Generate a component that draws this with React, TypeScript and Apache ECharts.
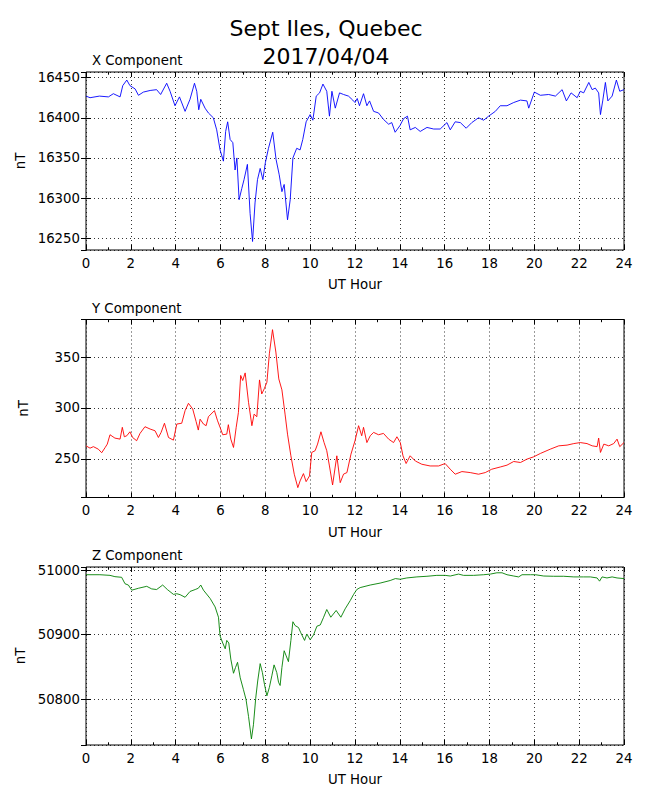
import React, { useEffect, useRef } from "react";
import * as echarts from "echarts";

const FONT = "DejaVu Sans";

const mainTitle = "Sept Iles, Quebec\n2017/04/04";
const panelTitles = ["X Component", "Y Component", "Z Component"];
const xAxisName = "UT Hour";
const yAxisName = "nT";

// X component (hour, nT)
const xHours = [0, 0.18, 0.6, 1.0, 1.22, 1.52, 1.64, 1.82, 1.96, 2.19, 2.34, 2.56, 2.86, 3.15, 3.33, 3.6, 3.75, 3.97, 4.17, 4.42, 4.64, 4.84, 4.94, 5.03, 5.12, 5.31, 5.46, 5.68, 5.83, 5.98, 6.13, 6.23, 6.32, 6.43, 6.55, 6.65, 6.73, 6.83, 6.95, 7.05, 7.2, 7.32, 7.43, 7.54, 7.65, 7.77, 7.89, 8.0, 8.14, 8.33, 8.48, 8.62, 8.74, 8.84, 8.99, 9.11, 9.23, 9.4, 9.55, 9.67, 9.82, 10.0, 10.12, 10.27, 10.42, 10.57, 10.74, 10.86, 10.97, 11.12, 11.31, 11.49, 11.71, 11.9, 12.0, 12.1, 12.2, 12.38, 12.53, 12.65, 12.83, 13.05, 13.27, 13.5, 13.64, 13.79, 14.0, 14.17, 14.34, 14.46, 14.69, 14.91, 15.21, 15.51, 15.8, 16.1, 16.25, 16.47, 16.7, 16.96, 17.21, 17.51, 17.74, 17.96, 18.26, 18.48, 18.78, 19.08, 19.38, 19.67, 19.75, 20.0, 20.27, 20.64, 20.94, 21.24, 21.43, 21.64, 21.91, 22.05, 22.2, 22.43, 22.58, 22.72, 22.87, 22.95, 23.05, 23.17, 23.28, 23.47, 23.66, 23.81, 24.0];
const xValues = [16427, 16425, 16427, 16426, 16430, 16426, 16440, 16447, 16440, 16436, 16428, 16432, 16434, 16435, 16429, 16443, 16433, 16415, 16426, 16408, 16423, 16443, 16433, 16410, 16423, 16412, 16406, 16400, 16385, 16360, 16346, 16383, 16395, 16373, 16369, 16335, 16350, 16298, 16312, 16323, 16342, 16281, 16246, 16294, 16323, 16337, 16323, 16344, 16362, 16382, 16348, 16329, 16308, 16317, 16273, 16298, 16350, 16362, 16360, 16373, 16395, 16404, 16397, 16427, 16431, 16442, 16433, 16402, 16433, 16412, 16431, 16429, 16427, 16422, 16419, 16424, 16415, 16430, 16415, 16421, 16408, 16406, 16398, 16392, 16394, 16382, 16390, 16399, 16402, 16385, 16388, 16383, 16388, 16386, 16386, 16394, 16385, 16395, 16394, 16387, 16394, 16400, 16397, 16402, 16408, 16415, 16415, 16419, 16422, 16421, 16412, 16432, 16428, 16429, 16427, 16435, 16421, 16431, 16425, 16433, 16431, 16444, 16435, 16437, 16431, 16404, 16421, 16444, 16421, 16427, 16447, 16433, 16435];

// Y component (hour, nT)
const yHours = [0, 0.18, 0.33, 0.55, 0.7, 0.85, 0.95, 1.07, 1.29, 1.52, 1.62, 1.71, 1.82, 1.96, 2.08, 2.26, 2.41, 2.63, 2.86, 3.08, 3.23, 3.35, 3.5, 3.68, 3.9, 4.05, 4.27, 4.42, 4.57, 4.76, 4.91, 5.01, 5.09, 5.24, 5.36, 5.46, 5.73, 5.86, 5.98, 6.1, 6.28, 6.35, 6.46, 6.58, 6.7, 6.8, 6.9, 6.99, 7.1, 7.25, 7.4, 7.5, 7.62, 7.74, 7.84, 7.95, 8.07, 8.18, 8.32, 8.47, 8.6, 8.74, 8.88, 8.99, 9.14, 9.29, 9.45, 9.55, 9.7, 9.82, 9.97, 10.07, 10.22, 10.33, 10.48, 10.62, 10.74, 10.86, 11.0, 11.19, 11.34, 11.49, 11.64, 11.82, 12.0, 12.16, 12.3, 12.38, 12.53, 12.68, 12.83, 13.05, 13.27, 13.5, 13.72, 13.87, 14.02, 14.14, 14.28, 14.46, 14.69, 14.98, 15.35, 15.73, 16.02, 16.25, 16.47, 16.77, 17.14, 17.51, 17.81, 18.1, 18.48, 18.78, 19.08, 19.38, 19.67, 19.97, 20.27, 20.71, 21.09, 21.46, 21.76, 22.05, 22.35, 22.58, 22.8, 22.87, 22.95, 23.1, 23.32, 23.54, 23.69, 23.81, 24.0];
const yValues = [262.8, 260.5, 262, 259.5, 256, 261, 264.5, 273.7, 270.4, 269.4, 281, 271.7, 272.7, 276.6, 271, 267.8, 275, 281.6, 279.3, 277.6, 271, 276, 285, 271, 268.4, 284.2, 285, 297.4, 304.6, 299, 286.8, 278.3, 289, 284.2, 282.6, 291.4, 297.4, 288, 281, 273.7, 274.3, 283.6, 269.4, 261.2, 281, 295.7, 332, 327, 334.5, 305.6, 282.6, 294, 291.4, 327.6, 313.8, 318.8, 325.3, 353.3, 377, 355, 328.6, 317.8, 294, 274.3, 253, 234.9, 221.7, 228.3, 235.5, 227.6, 233.2, 256.3, 258, 264.5, 276.6, 266, 258, 243, 224.3, 253, 226.6, 235, 236.5, 254.6, 267.8, 282.6, 272.7, 281, 266, 272.7, 276, 273.7, 275, 269.4, 266, 271.7, 266, 253, 245.4, 253, 247.9, 244.7, 243, 243, 245.4, 239.8, 234.9, 237.5, 236.5, 234.9, 236.5, 239.8, 242, 243.8, 247.4, 246.4, 249.7, 252, 255.3, 259.5, 262.8, 263.5, 265, 266, 265, 262.8, 262, 270.4, 256.3, 264.5, 262.8, 265, 269.4, 262, 266];

// Z component (hour, nT)
const zHours = [0, 0.62, 1.07, 1.29, 1.59, 1.74, 1.89, 2.04, 2.34, 2.71, 2.93, 3.15, 3.42, 3.63, 3.9, 4.05, 4.2, 4.42, 4.64, 4.87, 5.01, 5.12, 5.24, 5.54, 5.76, 5.91, 5.98, 6.1, 6.21, 6.28, 6.37, 6.46, 6.58, 6.67, 6.76, 6.88, 7.02, 7.14, 7.25, 7.38, 7.47, 7.57, 7.66, 7.77, 7.87, 7.96, 8.07, 8.18, 8.29, 8.39, 8.51, 8.59, 8.66, 8.74, 8.84, 8.93, 9.03, 9.14, 9.23, 9.33, 9.48, 9.58, 9.75, 9.85, 10.0, 10.15, 10.3, 10.45, 10.6, 10.74, 10.92, 11.16, 11.37, 11.56, 11.79, 11.93, 12.08, 12.23, 12.68, 13.12, 13.57, 13.8, 14.02, 14.31, 14.76, 15.21, 15.65, 16.02, 16.25, 16.62, 16.84, 17.29, 17.74, 18.04, 18.33, 18.56, 18.78, 19.08, 19.3, 19.45, 19.83, 20.05, 20.42, 20.86, 21.31, 21.76, 22.2, 22.5, 22.8, 22.91, 23.02, 23.24, 23.47, 23.69, 24.0];
const zValues = [50993, 50993, 50992, 50990, 50989, 50979, 50977, 50969, 50972, 50975, 50971, 50970, 50977, 50970, 50962.5, 50963.5, 50962, 50958, 50967, 50970, 50972, 50977, 50969, 50956, 50943, 50927, 50898, 50887, 50878, 50891, 50887, 50862, 50840, 50849, 50857, 50833, 50815, 50799, 50773, 50738, 50760, 50801, 50828, 50855, 50841, 50823, 50805, 50818, 50836, 50853, 50841, 50826, 50821, 50849, 50875, 50867, 50858, 50891, 50920, 50914, 50911, 50903, 50891, 50901, 50892, 50899.5, 50913, 50915, 50927, 50939, 50927, 50937.5, 50927, 50940, 50953, 50962, 50970, 50973, 50977, 50980, 50984, 50987, 50986, 50988, 50989.6, 50990.6, 50992, 50992, 50991, 50994, 50992, 50992, 50993, 50994, 50996, 50996, 50993, 50991, 50989.6, 50993, 50993, 50993, 50991, 50990.6, 50990.6, 50989.6, 50989.6, 50989.6, 50988, 50983, 50989.6, 50988, 50989.6, 50988, 50987];

const xTicks = [0, 2, 4, 6, 8, 10, 12, 14, 16, 18, 20, 22, 24];
const yLimits = [
  [16235.4, 16457],
  [212, 387],
  [50728.6, 51005],
];
const yStep = [50, 50, 100];

const seriesData = [
  [xHours, xValues],
  [yHours, yValues],
  [zHours, zValues],
];
const colors = ["#0000ff", "#ff0000", "#008000"];

const GRID_LEFT = 86;
const GRID_WIDTH = 538;
const GRID_HEIGHT = 178;
const GRID_TOPS = [72, 319.5, 567];

function buildOption() {
  const grid: any[] = [];
  const xAxis: any[] = [];
  const yAxis: any[] = [];
  const series: any[] = [];
  const graphic: any[] = [];
  const textStyle = { color: "#000", fontFamily: FONT, fontSize: 13.3 };

  for (let i = 0; i < 3; i++) {
    grid.push({
      left: GRID_LEFT,
      top: GRID_TOPS[i],
      width: GRID_WIDTH,
      height: GRID_HEIGHT,
      show: true,
      borderColor: "#000",
      borderWidth: 1,
      backgroundColor: "transparent",
      containLabel: false,
    });
    const tickStyle = { color: "#000", width: 1 };
    xAxis.push({
      type: "value",
      gridIndex: i,
      position: "bottom",
      min: xTicks[0],
      max: xTicks[xTicks.length - 1],
      interval: xTicks[1] - xTicks[0],
      axisLine: { show: false },
      axisTick: { show: true, inside: true, length: 5, lineStyle: tickStyle },
      minorTick: { show: true, splitNumber: 2, length: 2.7, lineStyle: tickStyle },
      axisLabel: { ...textStyle, margin: 6.5 },
      splitLine: { show: true, lineStyle: { color: "#000", width: 0.8, type: [1, 3] } },
      name: xAxisName,
      nameLocation: "middle",
      nameGap: 28,
      nameTextStyle: textStyle,
    });
    xAxis.push({
      type: "value",
      gridIndex: i,
      position: "top",
      min: xTicks[0],
      max: xTicks[xTicks.length - 1],
      interval: xTicks[1] - xTicks[0],
      axisLine: { show: false },
      axisTick: { show: true, inside: true, length: 5, lineStyle: tickStyle },
      minorTick: { show: true, splitNumber: 2, length: 2.7, lineStyle: tickStyle },
      axisLabel: { show: false },
      splitLine: { show: false },
    });
    const step = yStep[i];
    const fmt = (v: number) => (Math.abs(v / step - Math.round(v / step)) < 1e-6 ? String(Math.round(v)) : "");
    yAxis.push({
      type: "value",
      gridIndex: i,
      position: "left",
      min: yLimits[i][0],
      max: yLimits[i][1],
      minInterval: step,
      maxInterval: step,
      splitNumber: 4,
      scale: true,
      axisLine: { show: false },
      axisTick: { show: true, inside: true, length: 5, lineStyle: tickStyle },
      axisLabel: { ...textStyle, margin: 6, formatter: fmt, showMinLabel: false, showMaxLabel: false },
      splitLine: { show: true, lineStyle: { color: "#000", width: 0.8, type: [1, 3] } },
      name: yAxisName,
      nameLocation: "middle",
      nameRotate: 90,
      nameGap: 56,
      nameTextStyle: textStyle,
    });
    yAxis.push({
      type: "value",
      gridIndex: i,
      position: "right",
      min: yLimits[i][0],
      max: yLimits[i][1],
      minInterval: step,
      maxInterval: step,
      splitNumber: 4,
      scale: true,
      axisLine: { show: false },
      axisTick: { show: true, inside: true, length: 5, lineStyle: tickStyle },
      axisLabel: { show: false },
      splitLine: { show: false },
    });
    const [hrs, vals] = seriesData[i];
    series.push({
      type: "line",
      xAxisIndex: i * 2,
      yAxisIndex: i * 2,
      data: hrs.map((h, k) => [h, vals[k]]),
      showSymbol: false,
      symbol: "none",
      lineStyle: { color: colors[i], width: 0.9 },
      itemStyle: { color: colors[i] },
      silent: true,
      z: 1,
    });
    graphic.push({
      type: "text",
      x: 92,
      y: GRID_TOPS[i] - 18,
      style: {
        text: panelTitles[i],
        font: `13.3px "${FONT}"`,
        fill: "#000",
        verticalAlign: "top",
        align: "left",
      },
    });
  }

  graphic.push({
    type: "text",
    x: 326,
    y: 14.5,
    style: {
      text: mainTitle,
      font: `22px "${FONT}"`,
      fill: "#000",
      align: "center",
      verticalAlign: "top",
      lineHeight: 27.7,
    },
  });

  return {
    animation: false,
    backgroundColor: "#fff",
    grid,
    xAxis,
    yAxis,
    series,
    graphic,
  };
}

export default function App() {
  const ref = useRef<HTMLDivElement>(null);
  useEffect(() => {
    if (!ref.current) return;
    const chart = echarts.init(ref.current, undefined, { renderer: "svg" });
    chart.setOption(buildOption());
    return () => chart.dispose();
  }, []);
  return (
    <div
      ref={ref}
      style={{ position: "fixed", left: 0, top: 0, width: 650, height: 800, background: "#fff" }}
    />
  );
}
